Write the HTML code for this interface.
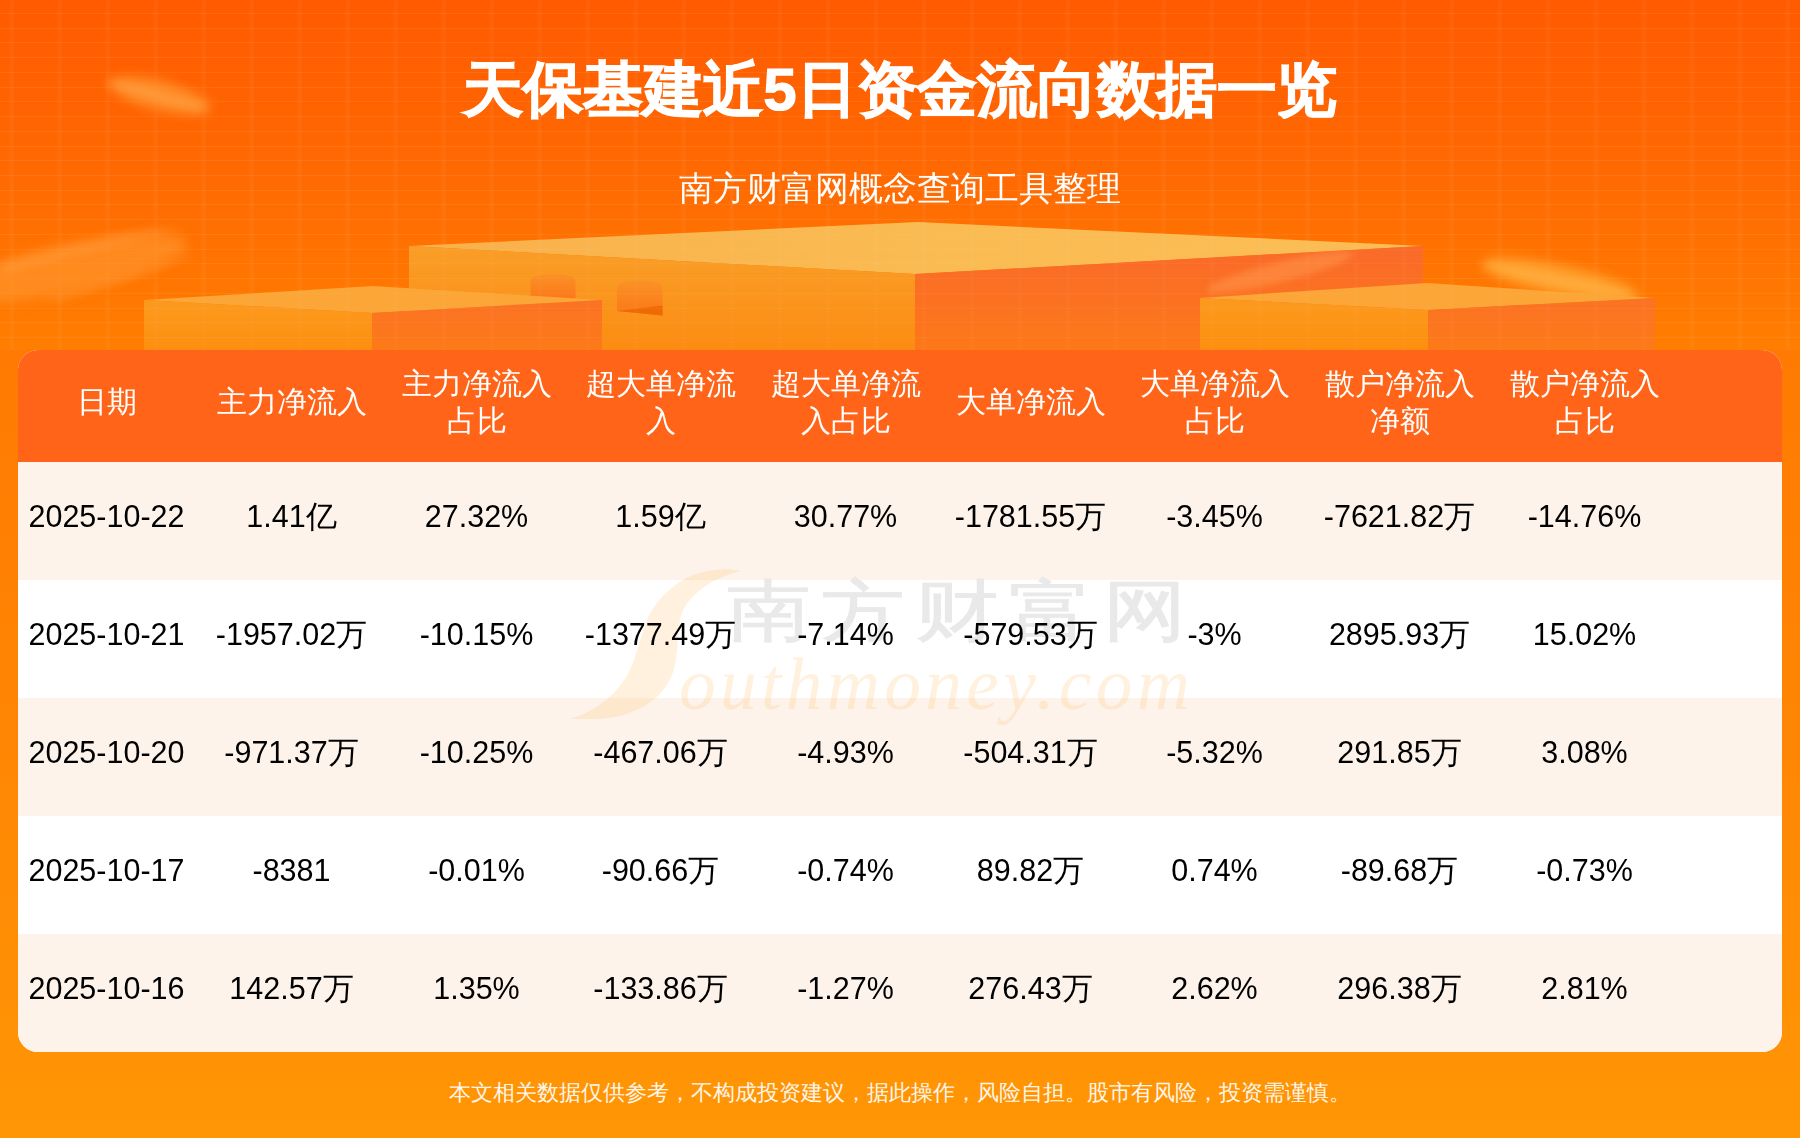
<!DOCTYPE html>
<html><head><meta charset="utf-8">
<style>
*{margin:0;padding:0;box-sizing:border-box}
html,body{width:1800px;height:1138px;overflow:hidden}
body{position:relative;font-family:"Liberation Sans",sans-serif;background:linear-gradient(180deg,#FF7A02 350px,#FF8604 750px,#FF9605 1138px)}
.banner{position:absolute;left:0;top:0;width:1800px;height:350px;background:linear-gradient(180deg,#FF5A00 0px,#FF6A02 180px,#FF7D01 345px)}
.grid{position:absolute;left:0;top:0;width:1800px;height:350px;
 background-image:repeating-linear-gradient(90deg,rgba(255,255,255,0) 0px,rgba(255,255,255,0) 9.5px,rgba(255,255,255,.02) 9.5px,rgba(255,255,255,.045) 12px,rgba(255,255,255,.02) 14.5px,rgba(255,255,255,0) 14.5px,rgba(255,255,255,0) 48px),
 repeating-linear-gradient(180deg,rgba(255,255,255,0) 0px,rgba(255,255,255,0) 13px,rgba(255,255,255,.065) 13px,rgba(255,255,255,.065) 14px,rgba(255,255,255,0) 14px,rgba(255,255,255,0) 14.73px);}
.g2{top:215px;height:135px;background-size:1800px 350px;background-position:0 -215px;opacity:.6;clip-path:polygon(144px 135px,144px 85px,373px 71px,409px 73.2px,409px 31px,918px 7px,1423px 31px,1423px 68.3px,1427px 68px,1655px 83px,1655px 135px)}
.title{position:absolute;left:0;width:1800px;top:47.5px;text-align:center;color:#fff;font-weight:bold;font-size:60px;-webkit-text-stroke:1.2px #fff;line-height:84px;white-space:nowrap}
.sub{position:absolute;left:0;width:1800px;top:166px;text-align:center;color:#fff;font-size:34px;line-height:44px;white-space:nowrap}
svg.ped{position:absolute;left:0;top:0}
.tbl{position:absolute;left:18px;top:350px;width:1764px;height:702px;border-radius:20px;overflow:hidden;background:#fff}
.hd{position:absolute;left:0;top:0;width:1764px;height:112px;background:#FF6418}
.row{position:absolute;left:0;width:1764px;height:118px}
.odd{background:#FDF3EB}
.c{position:absolute;width:185px;text-align:center;white-space:nowrap}
.hd .c{color:#fff;font-size:30px;line-height:36.5px}
.row .c{z-index:2;color:#000;font-size:30.5px;line-height:108px;top:0}
.wm{z-index:1;position:absolute;left:0;top:0;width:1764px;height:702px;pointer-events:none}
.wmcn{z-index:1;position:absolute;left:709px;top:214px;font-family:"Liberation Serif",serif;font-weight:normal;font-size:84px;line-height:96px;letter-spacing:10px;color:#E9E9E9;-webkit-text-stroke:1.2px #E9E9E9;white-space:nowrap;transform:scaleY(0.8);transform-origin:0 50%}
.wmen{z-index:1;position:absolute;left:661px;top:293.5px;font-family:"Liberation Serif",serif;font-style:italic;font-size:73.5px;line-height:82px;letter-spacing:4.3px;color:rgba(255,170,60,0.17);white-space:nowrap}
.foot{position:absolute;left:0;width:1800px;top:1077px;text-align:center;color:#FFF6EA;font-size:22px;line-height:32px;white-space:nowrap}
</style></head><body>
<div class="banner"></div>
<div class="grid"></div>
<svg class="ped" width="1800" height="350" viewBox="0 0 1800 350">
 <defs>
  <filter id="blur6" x="-50%" y="-50%" width="200%" height="200%"><feGaussianBlur stdDeviation="6"/></filter>
  <filter id="blur4" x="-50%" y="-50%" width="200%" height="200%"><feGaussianBlur stdDeviation="4"/></filter>
  <filter id="blur3" x="-50%" y="-50%" width="200%" height="200%"><feGaussianBlur stdDeviation="3"/></filter>
  <linearGradient id="bl" x1="0" y1="0" x2="0" y2="1"><stop offset="0" stop-color="#F99E28"/><stop offset="1" stop-color="#FC8C12"/></linearGradient>
  <linearGradient id="br" x1="0" y1="0" x2="0" y2="1"><stop offset="0" stop-color="#FA6A2A"/><stop offset="1" stop-color="#FD7818"/></linearGradient>
  <linearGradient id="bt" x1="0" y1="0" x2="1" y2="0"><stop offset="0" stop-color="#F9B04A"/><stop offset="0.5" stop-color="#FABB52"/><stop offset="1" stop-color="#FBBD55"/></linearGradient>
  <linearGradient id="sl" x1="0" y1="0" x2="0" y2="1"><stop offset="0" stop-color="#FC9A1E"/><stop offset="1" stop-color="#FD8F10"/></linearGradient>
  <linearGradient id="sr" x1="0" y1="0" x2="0" y2="1"><stop offset="0" stop-color="#FB7224"/><stop offset="1" stop-color="#FD7A18"/></linearGradient>
  <linearGradient id="cy" x1="0" y1="0" x2="0" y2="1"><stop offset="0" stop-color="#FA9226"/><stop offset="1" stop-color="#FC7618"/></linearGradient>
 </defs>
 <!-- streaks -->
 <g filter="url(#blur6)">
  <ellipse cx="160" cy="95" rx="52" ry="14" fill="#FF9530" opacity="0.9" transform="rotate(14 158 94)"/>
  <ellipse cx="70" cy="268" rx="120" ry="24" fill="#FF9A30" opacity="0.6" transform="rotate(-12 70 268)"/>
  <ellipse cx="1560" cy="280" rx="80" ry="14" fill="#FFB040" opacity="0.8" transform="rotate(12 1560 280)"/>
 </g>
 <g filter="url(#blur4)" opacity="0.22">
  <path d="M0,262 L150,228 L190,226 L0,275 Z" fill="#FFB060"/>
  <path d="M40,300 L190,255 L200,256 L60,302 Z" fill="#FFB060"/>
  <path d="M110,78 L210,108 L200,112 L105,84 Z" fill="#FFC070"/>
  <path d="M1480,262 L1640,295 L1620,298 L1490,270 Z" fill="#FFD070"/>
 </g>
 <!-- big box -->
 <polygon points="409,246 918,222 1423,246 915,274" fill="url(#bt)"/>
 <polygon points="409,246 915,274 915,350 409,350" fill="url(#bl)"/>
 <polygon points="915,274 1423,246 1423,350 915,350" fill="url(#br)"/>
 <g filter="url(#blur3)" opacity="0.5">
  <ellipse cx="1280" cy="272" rx="75" ry="10" fill="#FF9A50" transform="rotate(-14 1280 272)"/>
 </g>
 <!-- cylinders -->
 <path d="M530.5,280 A22.5,6 0 0 1 575.5,280 L575.5,300 L530.5,300 Z" fill="url(#cy)"/>
 <path d="M617,287 A22.75,6.5 0 0 1 662.5,287 L662.5,315.5 L617,311 Z" fill="url(#cy)"/>
 <path d="M617,311 L662.5,305.5 L662.5,315.5 Z" fill="#F06A04"/>
 <!-- left box -->
 <polygon points="144,300 373,286 602,300 372,313" fill="#FBA637"/>
 <polygon points="144,300 372,313 372,350 144,350" fill="url(#sl)"/>
 <polygon points="372,313 602,300 602,350 372,350" fill="url(#sr)"/>
 <!-- right box -->
 <polygon points="1200,298 1427,283 1655,298 1428,310" fill="#FBA637"/>
 <polygon points="1200,298 1428,310 1428,350 1200,350" fill="url(#sl)"/>
 <polygon points="1428,310 1655,298 1655,350 1428,350" fill="url(#sr)"/>
</svg>
<div class="grid g2"></div>
<div class="title">天保基建近5日资金流向数据一览</div>
<div class="sub">南方财富网概念查询工具整理</div>
<div class="tbl">
 <div class="hd">
  <div class="c" style="left:-4px;top:34px">日期</div>
  <div class="c" style="left:181px;top:34px">主力净流入</div>
  <div class="c" style="left:366px;top:16px">主力净流入<br>占比</div>
  <div class="c" style="left:550px;top:16px">超大单净流<br>入</div>
  <div class="c" style="left:735px;top:16px">超大单净流<br>入占比</div>
  <div class="c" style="left:920px;top:34px">大单净流入</div>
  <div class="c" style="left:1104px;top:16px">大单净流入<br>占比</div>
  <div class="c" style="left:1289px;top:16px">散户净流入<br>净额</div>
  <div class="c" style="left:1474px;top:16px">散户净流入<br>占比</div>
 </div>
 <div class="row odd" style="top:112px">
  <div class="c" style="left:-4px">2025-10-22</div>
  <div class="c" style="left:181px">1.41亿</div>
  <div class="c" style="left:366px">27.32%</div>
  <div class="c" style="left:550px">1.59亿</div>
  <div class="c" style="left:735px">30.77%</div>
  <div class="c" style="left:920px">-1781.55万</div>
  <div class="c" style="left:1104px">-3.45%</div>
  <div class="c" style="left:1289px">-7621.82万</div>
  <div class="c" style="left:1474px">-14.76%</div>
 </div>
 <div class="row" style="top:230px">
  <div class="c" style="left:-4px">2025-10-21</div>
  <div class="c" style="left:181px">-1957.02万</div>
  <div class="c" style="left:366px">-10.15%</div>
  <div class="c" style="left:550px">-1377.49万</div>
  <div class="c" style="left:735px">-7.14%</div>
  <div class="c" style="left:920px">-579.53万</div>
  <div class="c" style="left:1104px">-3%</div>
  <div class="c" style="left:1289px">2895.93万</div>
  <div class="c" style="left:1474px">15.02%</div>
 </div>
 <div class="row odd" style="top:348px">
  <div class="c" style="left:-4px">2025-10-20</div>
  <div class="c" style="left:181px">-971.37万</div>
  <div class="c" style="left:366px">-10.25%</div>
  <div class="c" style="left:550px">-467.06万</div>
  <div class="c" style="left:735px">-4.93%</div>
  <div class="c" style="left:920px">-504.31万</div>
  <div class="c" style="left:1104px">-5.32%</div>
  <div class="c" style="left:1289px">291.85万</div>
  <div class="c" style="left:1474px">3.08%</div>
 </div>
 <div class="row" style="top:466px">
  <div class="c" style="left:-4px">2025-10-17</div>
  <div class="c" style="left:181px">-8381</div>
  <div class="c" style="left:366px">-0.01%</div>
  <div class="c" style="left:550px">-90.66万</div>
  <div class="c" style="left:735px">-0.74%</div>
  <div class="c" style="left:920px">89.82万</div>
  <div class="c" style="left:1104px">0.74%</div>
  <div class="c" style="left:1289px">-89.68万</div>
  <div class="c" style="left:1474px">-0.73%</div>
 </div>
 <div class="row odd" style="top:584px">
  <div class="c" style="left:-4px">2025-10-16</div>
  <div class="c" style="left:181px">142.57万</div>
  <div class="c" style="left:366px">1.35%</div>
  <div class="c" style="left:550px">-133.86万</div>
  <div class="c" style="left:735px">-1.27%</div>
  <div class="c" style="left:920px">276.43万</div>
  <div class="c" style="left:1104px">2.62%</div>
  <div class="c" style="left:1289px">296.38万</div>
  <div class="c" style="left:1474px">2.81%</div>
 </div>
 <svg class="wm" width="1764" height="702" viewBox="0 0 1764 702">
  <path d="M722.6,221.0 C707.0,217.0 682.0,220.0 665.0,230.0 C650.0,239.0 634.0,255.0 628.7,271.6 C623.0,285.0 620.0,298.0 616.0,310.0 C608.0,334.0 587.0,358.0 552.5,369.0 L582.0,369.0 C618.0,366.0 644.0,350.0 654.0,325.0 C660.0,310.0 659.0,290.0 662.0,270.0 C666.0,250.0 687.0,230.0 722.6,221.0 Z" fill="rgba(255,170,60,0.17)"/>
 </svg>
 <div class="wmcn">南方财富网</div>
 <div class="wmen">outhmoney.com</div>
</div>
<div class="foot">本文相关数据仅供参考，不构成投资建议，据此操作，风险自担。股市有风险，投资需谨慎。</div>
</body></html>
